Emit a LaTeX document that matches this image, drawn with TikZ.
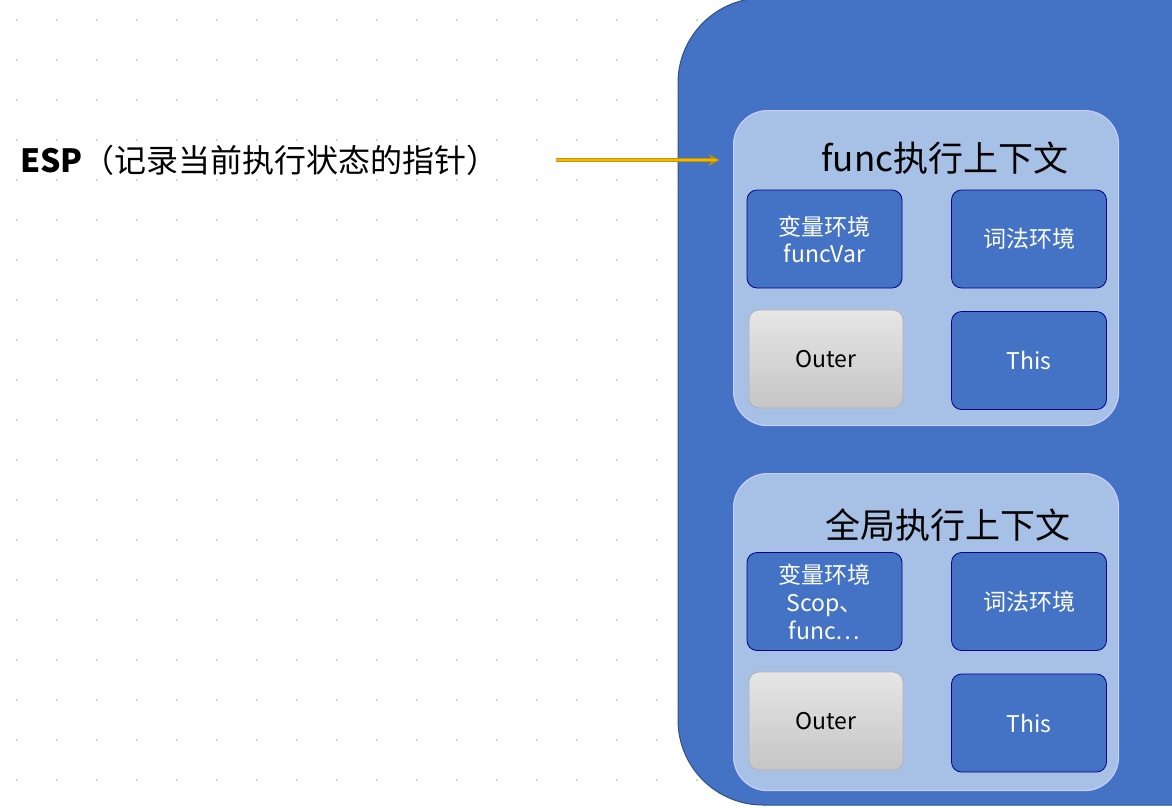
\documentclass[tikz,border=0pt]{standalone}
\usepackage{fontspec}
\setmainfont{Noto Sans CJK SC}
\begin{document}
\begin{tikzpicture}[x=1pt,y=-1pt,
  inner/.style={draw=blue!20!white,line width=1.2pt,rounded corners=34pt},
  cell/.style={draw=blue!50!black,line width=0.8pt,rounded corners=10pt,minimum width=155pt,minimum height=98pt,text=white,font=\fontsize{23}{27}\selectfont,align=center},
  outer/.style={draw=gray!60,line width=0.8pt,top color=gray!20,bottom color=gray!45,rounded corners=10pt,minimum width=154pt,minimum height=98pt,font=\fontsize{23}{27}\selectfont},
  ttl/.style={font=\fontsize{35}{40}\selectfont}]
\useasboundingbox (0,0) rectangle (1172,807);
\clip (0,0) rectangle (1172,807);
\fill[white] (0,0) rectangle (1172,807);
\foreach \i in {0,...,29} \foreach \j in {0,...,20} \fill[gray!45] (17+40*\i,20+40*\j) circle (1.2pt);
\definecolor{bigb}{HTML}{4472C4}
\definecolor{lb}{HTML}{A6C0E6}
\definecolor{cb}{HTML}{4472C4}
\definecolor{arr}{HTML}{F5B800}
\draw[fill=bigb,draw=bigb!70!black,line width=1pt,rounded corners=85pt] (678,-2) rectangle (1260,805);
\node[inner,fill=lb,minimum width=385pt,minimum height=315pt,anchor=north west] (c1) at (733,110) {};
\node[inner,fill=lb,minimum width=385pt,minimum height=317pt,anchor=north west] (c2) at (733,473) {};
\node[ttl] (t1) at (945,158) {func执行上下文};
\node[ttl] (t2) at (948,525) {全局执行上下文};
\node[cell,fill=cb] (v1) at (824.5,239) {变量环境\\funcVar};
\node[cell,fill=cb] (l1) at (1029,239) {词法环境};
\node[outer] (o1) at (826,359) {Outer};
\node[cell,fill=cb] (h1) at (1029,360.5) {This};
\node[cell,fill=cb,font=\fontsize{23}{28}\selectfont] (v2) at (824.5,601.5) {变量环境\\Scop、\\func…};
\node[cell,fill=cb] (l2) at (1029,601.5) {词法环境};
\node[outer] (o2) at (826,721) {Outer};
\node[cell,fill=cb] (h2) at (1029,723) {This};
\node[anchor=west,font=\fontsize{32}{36}\selectfont,inner sep=0pt] (esp) at (20,160) {\textbf{ESP}（记录当前执行状态的指针）};
\coordinate (s) at (556,160);
\coordinate (tip) at (720,160);
\draw[draw=arr!80!black,line width=4pt,-stealth] (s) -- (tip);
\draw[draw=arr,line width=2.5pt,shorten >=4pt] (s) -- (tip);
\end{tikzpicture}
\end{document}
